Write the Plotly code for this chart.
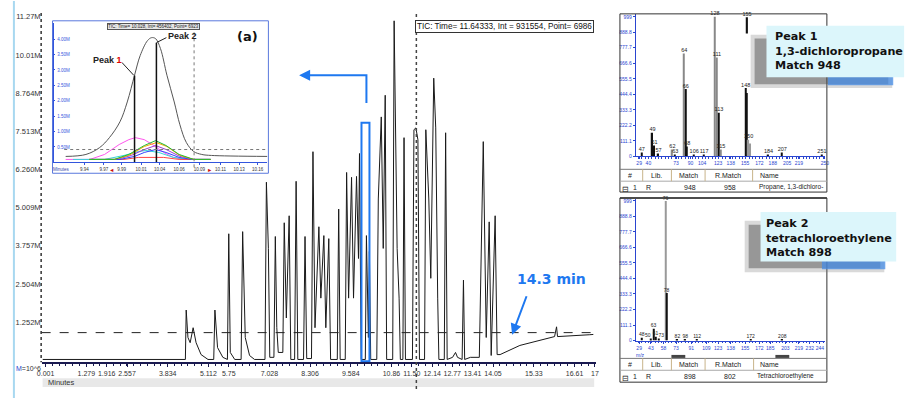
import plotly.graph_objects as go

# ---------------- data ----------------
# main TIC chromatogram trace (minutes, intensity in millions)
rt_min = [-0.09, 4.39, 4.415, 4.47, 4.54, 4.633, 4.726, 4.882, 5.10,
          5.28, 5.317, 5.40, 5.566, 5.71, 5.752, 5.80, 5.939,
          6.14, 6.188, 6.27, 6.405, 6.561,
          6.89, 6.934, 6.996, 7.04, 7.17, 7.214, 7.26, 7.307, 7.45, 7.494, 7.56, 7.649, 7.70,
          7.82, 7.867, 7.92, 8.10, 8.147, 8.20, 8.35, 8.396, 8.46, 8.582, 8.644, 8.738, 8.800, 8.893, 8.95,
          9.16, 9.204, 9.25, 9.41, 9.453, 9.515, 9.608, 9.670, 9.764, 9.826, 9.857, 9.91,
          10.04, 10.075, 10.137, 10.168, 10.21, 10.40, 10.448, 10.541, 10.603, 10.665, 10.71,
          10.90, 10.945, 11.039, 11.101, 11.14, 11.22, 11.256, 11.30, 11.52, 11.567, 11.629, 11.692, 11.74,
          11.90, 11.940, 12.034, 12.096, 12.189, 12.251, 12.313, 12.35, 12.52, 12.562, 12.61,
          12.780, 12.873, 12.935, 13.08, 13.122, 13.16, 13.340, 13.62, 13.682, 13.744, 13.837, 13.930, 13.993,
          14.117, 14.179, 14.272, 14.894, 15.516, 15.983, 16.045, 16.076, 17.071, 17.20]
tic_M = [0.03, 0.03, 1.65, 0.75, 0.58, 1.07, 0.58, 0.19, 0.03,
         0.03, 1.65, 0.42, 0.10, 0.03, 4.15, 0.26, 0.03,
         0.03, 4.22, 0.75, 0.16, 0.03,
         0.03, 5.84, 3.67, 0.10, 0.10, 4.06, 1.07, 0.26, 0.26, 4.51, 1.39, 4.74, 0.03,
         0.03, 5.87, 0.03, 0.03, 4.06, 0.06, 0.06, 6.84, 1.07, 4.38, 2.04, 4.09, 1.07, 3.99, 0.03,
         0.03, 4.96, 0.03, 0.03, 6.16, 2.04, 6.00, 2.04, 6.03, 3.34, 6.78, 0.03,
         0.03, 4.09, 0.75, 3.57, 0.03, 0.03, 5.29, 7.98, 3.67, 8.69, 0.03,
         0.03, 11.13, 3.67, 2.04, 0.03, 0.03, 7.30, 0.03, 0.03, 7.56, 7.62, 7.23, 0.03,
         0.03, 7.56, 5.29, 2.69, 9.25, 7.62, 2.04, 0.03, 0.03, 7.46, 0.03,
         0.10, 0.26, 0.10, 0.03, 2.63, 0.03, 0.10, 0.10, 3.34, 7.17, 0.75, 4.54, 0.16,
         4.74, 0.19, 0.19, 0.49, 0.65, 0.78, 1.10, 0.78, 0.84, 0.85]
assert len(rt_min) == len(tic_M)

x_tick_vals = [0.001, 1.279, 1.918, 2.557, 3.834, 5.112, 5.751, 7.028, 8.306, 9.584, 10.86, 11.50,
               12.14, 12.77, 13.41, 14.05, 15.33, 16.61, 17.25]
x_tick_text = ["0.001", "1.279", "1.916", "2.557", "3.834", "5.112", "5.75", "7.028", "8.306", "9.584",
               "10.86", "11.50", "12.14", "12.77", "13.41", "14.05", "15.33", "16.61", "17"]
y_tick_vals = [1.252, 2.504, 3.757, 5.009, 6.260, 7.513, 8.764, 10.01, 11.27]
y_tick_text = ["1.252M", "2.504M", "3.757M", "5.009M", "6.260M", "7.513M", "8.764M", "10.01M", "11.27M"]

threshold_M = 0.91
cursor_min = 11.643
zoom_window_min = [9.92, 10.17]
zoom_window_top_M = 7.79
end_marker = (14.65, 0.84)

# inset (a): deconvoluted peak region (minutes, intensity in millions)
inset_total_t = [9.921, 9.946, 9.963, 9.975, 9.988, 9.997, 10.006, 10.013, 10.022, 10.027, 10.032,
                 10.038, 10.046, 10.055, 10.062, 10.070, 10.079, 10.089, 10.101, 10.170]
inset_total_I = [0.193, 0.257, 0.482, 0.803, 1.317, 1.960, 2.827, 3.469, 3.951, 4.047, 4.015,
                 3.694, 2.827, 1.960, 1.220, 0.642, 0.353, 0.257, 0.225, 0.193]
magenta_t = [9.921, 9.951, 9.969, 9.987, 9.999, 10.007, 10.018, 10.030, 10.042, 10.054, 10.067, 10.10]
magenta_I = [0.096, 0.096, 0.257, 0.578, 0.738, 0.803, 0.738, 0.546, 0.321, 0.161, 0.096, 0.096]
green_t = [9.95, 9.981, 9.999, 10.018, 10.032, 10.045, 10.061, 10.079, 10.10]
green_I = [0.096, 0.096, 0.257, 0.546, 0.706, 0.546, 0.257, 0.096, 0.096]
orange_t = [9.95, 9.981, 9.999, 10.018, 10.033, 10.046, 10.062, 10.079, 10.10]
orange_I = [0.096, 0.096, 0.225, 0.514, 0.642, 0.514, 0.225, 0.096, 0.096]
purple_t = [9.95, 9.984, 10.002, 10.018, 10.032, 10.045, 10.062, 10.079, 10.10]
purple_I = [0.096, 0.096, 0.225, 0.417, 0.546, 0.417, 0.193, 0.096, 0.096]
blue_t = [9.95, 9.988, 10.006, 10.018, 10.032, 10.045, 10.061, 10.077, 10.10]
blue_I = [0.096, 0.096, 0.193, 0.321, 0.417, 0.321, 0.161, 0.096, 0.096]
cyan_t = [9.93, 9.969, 9.993, 10.011, 10.020, 10.036, 10.054, 10.073, 10.10]
cyan_I = [0.096, 0.096, 0.225, 0.353, 0.385, 0.321, 0.161, 0.096, 0.096]
red_t = [9.97, 9.993, 10.011, 10.042, 10.061, 10.08]
red_I = [0.096, 0.096, 0.161, 0.161, 0.096, 0.096]
inset_peak_t = [10.006, 10.033]
inset_peak_I = [2.82, 3.88]
inset_cursor_t = 10.0795
inset_threshold = 0.417
inset_x_ticks = [9.926, 9.944, 9.968, 9.990, 10.014, 10.037, 10.061, 10.086, 10.112, 10.135, 10.158]
inset_y_ticks = [0.5, 1.0, 1.5, 2.0, 2.5, 3.0, 3.5, 4.0, 4.5]

# mass spectrum, peak 1
spec1_mz = [32.1, 45.0, 47.4, 52.1, 68.6, 72.1, 82.7, 84.5, 86.3, 94.5, 106.3, 119.2, 121.6, 124.0,
            126.3, 155.8, 157.3, 159.3, 161.6, 182.9, 199.3, 246.5]
spec1_int = [28, 170, 78, 21, 50, 14, 737, 482, 71, 14, 14, 999, 708, 312,
             50, 489, 453, 120, 92, 14, 28, 14]
spec1_lbl = ["47", "49", "51", "57", "62", "63", "64", "66", "68", "106", "117", "128", "111", "113",
             "115", "148", "", "150", "", "184", "207", "251"]
spec1_top_mz = [157.3]
spec1_top_base = [880]
spec1_top_int = [115]
spec1_top_lbl = ["155"]
spec1_xticks = [29, 40, 73, 90, 104, 123, 138, 155, 172, 188, 205, 219, 250]
spec_yticks = [0, 111.1, 222.2, 333.3, 444.4, 555.5, 666.6, 777.7, 888.8, 999]

# mass spectrum, peak 2
spec2_mz = [32.1, 42.7, 46.2, 48.6, 52.1, 60.3, 61.5, 74.5, 83.9, 98.0, 161.6, 199.3]
spec2_int = [21, 14, 85, 28, 14, 999, 340, 7, 7, 7, 7, 7]
spec2_lbl = ["48", "50", "63", "61", "73", "76", "78", "82", "98", "112", "172", "208"]
spec2_xticks = [29, 43, 58, 73, 91, 109, 123, 138, 155, 172, 185, 203, 219, 232, 244]

table_header = ["#", "Lib.", "Match", "R.Match", "Name"]
table1_row = ["1", "R", "948", "958", "Propane, 1,3-dichloro-"]
table2_row = ["1", "R", "898", "802", "Tetrachloroethylene"]
callout1 = ["Peak 1", "1,3-dichloropropane", "Match 948"]
callout2 = ["Peak 2", "tetrachloroethylene", "Match 898"]

# ---------------- styles / helpers ----------------
W, H = 920, 401
def PX(x): return x / W
def PY(y): return 1 - y / H

BLUE = "#1E78F0"
AXBLUE = "#2a45d0"
spec1_colors = ["#111", "#111", "#111", "#111", "#888", "#111", "#888", "#111", "#111", "#111", "#111",
                "#888", "#888", "#111", "#888", "#111", "#111", "#999", "#999", "#111", "#111", "#111"]
spec2_colors = ["#111", "#111", "#111", "#111", "#111", "#999", "#111", "#111", "#111", "#111", "#111", "#111"]
spec2_lbl_pos = ["top center", "top left", "top center", "top center", "top right", "top center",
                 "top center", "top center", "top center", "top center", "top center", "top center"]

fig = go.Figure()

# main chromatogram
fig.add_trace(go.Scatter(x=rt_min, y=tic_M, mode="lines", line=dict(color="#1a1a1a", width=1.0),
                         xaxis="x", yaxis="y", hoverinfo="skip"))

# inset
comp = [(magenta_t, magenta_I, "#ff55ee"), (cyan_t, cyan_I, "#33d6d6"), (red_t, red_I, "#ff4444"),
        (purple_t, purple_I, "#9b3fd0"), (blue_t, blue_I, "#3344ff"), (orange_t, orange_I, "#ffa500"),
        (green_t, green_I, "#22bb33")]
for t, v, c in comp:
    fig.add_trace(go.Scatter(x=t, y=v, mode="lines", line=dict(color=c, width=1), xaxis="x2", yaxis="y2",
                             hoverinfo="skip"))
fig.add_trace(go.Scatter(x=inset_total_t, y=inset_total_I, mode="lines", line=dict(color="#555", width=1, shape="spline"),
                         xaxis="x2", yaxis="y2", hoverinfo="skip"))
for t, v in zip(inset_peak_t, inset_peak_I):
    fig.add_trace(go.Scatter(x=[t, t], y=[0, v], mode="lines", line=dict(color="#111", width=1.5),
                             xaxis="x2", yaxis="y2", hoverinfo="skip"))

# spectra
fig.add_trace(go.Bar(x=spec1_mz, y=spec1_int, width=1.6, marker=dict(color=spec1_colors, line=dict(width=0)),
                     xaxis="x3", yaxis="y3"))
fig.add_trace(go.Bar(x=spec1_top_mz, y=spec1_top_int, base=spec1_top_base, width=1.6,
                     marker=dict(color="#111", line=dict(width=0)), xaxis="x3", yaxis="y3"))
fig.add_trace(go.Scatter(x=spec1_mz + spec1_top_mz, y=spec1_int + [b + v for b, v in zip(spec1_top_base, spec1_top_int)],
                         text=spec1_lbl + spec1_top_lbl, mode="text", textposition="top center",
                         textfont=dict(size=5.5, color="#222"), cliponaxis=False, xaxis="x3", yaxis="y3"))
fig.add_trace(go.Bar(x=spec2_mz, y=spec2_int, width=1.6, marker=dict(color=spec2_colors, line=dict(width=0)),
                     xaxis="x4", yaxis="y4"))
fig.add_trace(go.Scatter(x=spec2_mz, y=spec2_int, text=spec2_lbl, mode="text", textposition=spec2_lbl_pos,
                         textfont=dict(size=5, color="#222"), cliponaxis=False, xaxis="x4", yaxis="y4"))

shapes = []
def line(x0, y0, x1, y1, color="#333", width=1, dash=None, **kw):
    d = dict(type="line", xref="paper", yref="paper", x0=PX(x0), y0=PY(y0), x1=PX(x1), y1=PY(y1),
             line=dict(color=color, width=width, dash=dash), layer="above")
    d.update(kw)
    shapes.append(d)
def rect(x0, y0, x1, y1, fill="rgba(0,0,0,0)", color=None, width=0):
    shapes.append(dict(type="rect", xref="paper", yref="paper", x0=PX(x0), y0=PY(y0), x1=PX(x1), y1=PY(y1),
                       fillcolor=fill, line=dict(color=color or "rgba(0,0,0,0)", width=width), layer="above"))

# window edge and main y axis
line(9, 0, 9, 401, color="#a8d8f0", width=2)
line(36.5, 12, 36.5, 365, color="#333", width=1.5, dash="dot")
rect(38, 381, 595, 390, fill="#e8e8e8")
# threshold and cursor
shapes.append(dict(type="line", xref="x domain", yref="y", x0=0, x1=1, y0=threshold_M, y1=threshold_M,
                   line=dict(color="#222", width=1, dash="dash"), layer="above"))
shapes.append(dict(type="line", xref="x", yref="paper", x0=cursor_min, x1=cursor_min, y0=PY(392), y1=PY(12),
                   line=dict(color="#444", width=1.5, dash="dot"), layer="above"))
# zoom window box and arrow
shapes.append(dict(type="rect", xref="x", yref="y", x0=zoom_window_min[0], x1=zoom_window_min[1],
                   y0=-0.03, y1=zoom_window_top_M, line=dict(color=BLUE, width=2), layer="above"))
shapes.append(dict(type="path", xref="paper", yref="paper",
                   path=f"M {PX(365)},{PY(103)} L {PX(365)},{PY(75)} L {PX(300)},{PY(75)}",
                   line=dict(color=BLUE, width=2), layer="above"))
# inset frame and guides
rect(48, 20, 266, 174, fill="rgba(0,0,0,0)", color="#5a78dd", width=1)
shapes.append(dict(type="line", xref="x2", yref="paper", x0=inset_cursor_t, x1=inset_cursor_t, y0=PY(168), y1=PY(23),
                   line=dict(color="#777", width=1, dash="dot"), layer="above"))
shapes.append(dict(type="line", xref="x2 domain", yref="y2", x0=0.05, x1=1, y0=inset_threshold, y1=inset_threshold,
                   line=dict(color="#777", width=1, dash="dot"), layer="above"))
line(118, 62, 130, 75, color="#222", width=1)
line(163, 37, 153, 42, color="#222", width=1)

# spectrum frames and tables
rect(621, 13, 830, 193, color="#333", width=1)
line(621, 199, 830, 199, color="#333", width=1.5)
line(621, 170, 830, 170, color="#777")
line(621, 182, 830, 182, color="#aaa")
for xs in (644, 673, 707, 755):
    line(xs, 170, xs, 182, color="#c8b48a")
rect(621, 199, 830, 385, color="#333", width=1)
line(621, 361, 830, 361, color="#777")
line(621, 373, 830, 373, color="#aaa")
for xs in (644, 673, 707, 756):
    line(xs, 361, xs, 373, color="#c8b48a")
line(673, 359, 687, 359, color="#444", width=3)
line(778, 359, 792, 359, color="#444", width=3)

# callouts with shadows
for (bx0, by0, bx1, by1) in [(769, 25, 908, 77), (763, 213, 900, 263)]:
    rect(bx0 - 16, by0 + 9, bx1 - 12, by1 + 11, fill="rgba(120,120,120,0.28)")
    rect(bx0 - 12, by0 + 13, bx1 - 16, by1 + 7, fill="rgba(70,70,70,0.45)")
    rect(bx0 + 62, by1 - 1, bx1 - 11, by1 + 8, fill="rgba(70,140,230,0.75)")
    rect(bx0, by0, bx1, by1, fill="#dcf6fb")

ann = []
def text(x, y, s, size=8, color="#333", family="Liberation Sans, Arial", xanchor="center", **kw):
    d = dict(x=PX(x), y=PY(y), xref="paper", yref="paper", text=s, showarrow=False,
             font=dict(size=size, color=color, family=family), xanchor=xanchor, yanchor="middle")
    d.update(kw)
    ann.append(d)

text(24, 371, f"<span style='color:{AXBLUE}'>M</span>=10^6", size=7)
text(41, 385, "Minutes", size=7.5, xanchor="left")
text(414, 26, "TIC: Time= 11.64333, Int = 931554, Point= 6986", size=8.2, color="#111", xanchor="left",
     bordercolor="#333", borderwidth=1, bgcolor="white", borderpad=1)
text(245, 36, "<b>(a)</b>", size=13, color="#111", family="DejaVu Sans")
text(104, 60, "<b>Peak <span style='color:#e00000'>1</span></b>", size=9, color="#222")
text(179, 35, "<b>Peak 2</b>", size=9, color="#222")
text(150, 26, "TIC: Time= 10.028, Int= 456402, Point= 6923", size=4.5, color="#222",
     bgcolor="#e6e6e6", bordercolor="#555", borderwidth=1, borderpad=0)
text(57, 170, "Minutes", size=4.5, color="#3344aa")
text(108, 171, "◄", size=5.5, color="#cc1010")
text(207, 171, "►", size=5.5, color="#cc1010")
text(552, 281, "<b>14.3 min</b>", size=14, color=BLUE, family="DejaVu Sans")
ann.append(dict(x=PX(297), y=PY(75), xref="paper", yref="paper", ax=10, ay=0, text="", showarrow=True,
                arrowhead=2, arrowsize=1.1, arrowwidth=2, arrowcolor=BLUE))
ann.append(dict(x=end_marker[0], y=end_marker[1], xref="x", yref="y", ax=15, ay=-40, text="", showarrow=True,
                arrowhead=2, arrowsize=1.1, arrowwidth=2, arrowcolor=BLUE))
# callout texts
text(776, 51, "<b>" + "<br>".join(callout1) + "</b>", size=11.2, color="#111", family="DejaVu Sans",
     xanchor="left", align="left")
text(766, 239, "<b>" + "<br>".join(callout2) + "</b>", size=11.2, color="#111", family="DejaVu Sans",
     xanchor="left", align="left")
# tables
hx = [631, 658, 690, 730, 760]
rx = [636, 650, 692, 732, 759]
for k, s in enumerate(table_header):
    text(hx[k], 176, s, size=7, color="#222", xanchor="left" if k == 4 else "center")
    text(hx[k], 367, s, size=7, color="#222", xanchor="left" if k == 4 else "center")
for k, s in enumerate(table1_row):
    text(rx[k], 188, s, size=6.5 if k == 4 else 7, color="#222", xanchor="left" if k == 4 else "center")
for k, s in enumerate(table2_row):
    text(rx[k] - (2 if k == 4 else 0), 379, s, size=6.5 if k == 4 else 7, color="#222",
         xanchor="left" if k == 4 else "center")
text(627, 190, "⊟", size=8, color="#222")
text(627, 381, "⊟", size=8, color="#222")
text(642, 358, "m/z", size=5, color=AXBLUE)

small = dict(size=5, color=AXBLUE, family="Liberation Sans, Arial")
fig.update_layout(
    width=W, height=H, margin=dict(l=0, r=0, t=0, b=0),
    paper_bgcolor="white", plot_bgcolor="white", showlegend=False,
    font=dict(family="Liberation Sans, Arial", size=8, color="#333"),
    xaxis=dict(domain=[PX(37), PX(597)], range=[-0.124, 17.289], anchor="y", showgrid=False, zeroline=False,
               showline=True, linecolor="#1a1a50", linewidth=1.5, ticks="outside", ticklen=3, tickcolor="#1a1a50",
               tickvals=x_tick_vals, ticktext=x_tick_text, tickangle=0, tickfont=dict(size=7, color="#333"),
               minor=dict(ticks="outside", ticklen=2, tickcolor="#1a1a50", dtick=0.2129, tick0=0.001, showgrid=False)),
    yaxis=dict(domain=[PY(365), PY(8)], range=[-0.065, 11.52], anchor="x", showgrid=False, zeroline=False,
               showline=False, ticks="", tickvals=y_tick_vals, ticktext=y_tick_text,
               tickfont=dict(size=7.5, color="#333")),
    xaxis2=dict(domain=[PX(49), PX(265)], range=[9.906, 10.170], anchor="y2", showgrid=False, zeroline=False,
                showline=True, linecolor="#3355dd", linewidth=1, ticks="outside", ticklen=2, tickcolor="#3355dd",
                tickvals=inset_x_ticks, ticktext=[f"{v:.2f}" for v in inset_x_ticks], tickangle=0,
                tickfont=dict(size=4.5, color="#333")),
    yaxis2=dict(domain=[PY(163), PY(22)], range=[0, 4.53], anchor="x2", showgrid=False, zeroline=False,
                showline=True, linecolor="#3355dd", linewidth=1.5, ticks="inside", ticklen=2, tickcolor="#3355dd",
                ticklabelposition="inside", tickvals=inset_y_ticks,
                ticktext=[f"{v:.2f}M" for v in inset_y_ticks], tickfont=dict(size=4.5, color="#3355dd")),
    xaxis3=dict(domain=[PX(637), PX(828)], range=[25, 250], anchor="y3", showgrid=False, zeroline=False,
                showline=True, linecolor=AXBLUE, linewidth=1, ticks="outside", ticklen=2, tickcolor=AXBLUE,
                tickvals=spec1_xticks, ticktext=[str(v) for v in spec1_xticks], tickangle=0, tickfont=small,
                minor=dict(ticks="outside", ticklen=1.5, tickcolor=AXBLUE, dtick=4)),
    yaxis3=dict(domain=[PY(157), PY(13)], range=[0, 1020], anchor="x3", showgrid=False, zeroline=False,
                showline=True, linecolor=AXBLUE, linewidth=1, ticks="outside", ticklen=2, tickcolor=AXBLUE,
                tickvals=spec_yticks, ticktext=[str(v) for v in spec_yticks], tickfont=small),
    xaxis4=dict(domain=[PX(637), PX(828)], range=[25, 250], anchor="y4", showgrid=False, zeroline=False,
                showline=True, linecolor=AXBLUE, linewidth=1, ticks="outside", ticklen=2, tickcolor=AXBLUE,
                tickvals=spec2_xticks, ticktext=[str(v) for v in spec2_xticks], tickangle=0, tickfont=small,
                minor=dict(ticks="outside", ticklen=1.5, tickcolor=AXBLUE, dtick=4)),
    yaxis4=dict(domain=[PY(343), PY(200)], range=[0, 1013], anchor="x4", showgrid=False, zeroline=False,
                showline=True, linecolor=AXBLUE, linewidth=1, ticks="outside", ticklen=2, tickcolor=AXBLUE,
                tickvals=spec_yticks, ticktext=[str(v) for v in spec_yticks], tickfont=small),
    shapes=shapes, annotations=ann,
)

fig.write_html("out.html", config={"displayModeBar": False},
               post_script="document.body.style.margin='0';document.body.style.padding='0';")
